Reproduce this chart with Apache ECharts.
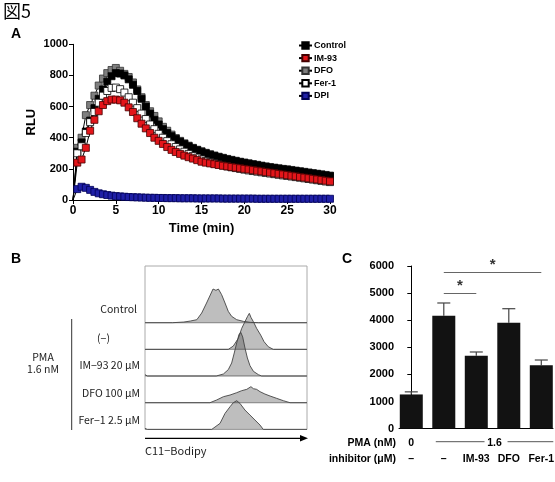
<!DOCTYPE html>
<html>
<head>
<meta charset="utf-8">
<script src="https://cdn.jsdelivr.net/npm/echarts@6/dist/echarts.min.js"></script>
<style>
html, body { margin: 0; padding: 0; background: #fff; }
#main { width: 555px; height: 482px; }
</style>
</head>
<body>
<div id="main"></div>
<script>
// ---- A: chemiluminescence kinetics (RLU vs time) ----
var times = [0, 0.5, 1, 1.5, 2, 2.5, 3, 3.5, 4, 4.5, 5, 5.5, 6, 6.5, 7, 7.5, 8, 8.5, 9, 9.5,
    10, 10.5, 11, 11.5, 12, 12.5, 13, 13.5, 14, 14.5, 15, 15.5, 16, 16.5, 17, 17.5, 18, 18.5, 19, 19.5,
    20, 20.5, 21, 21.5, 22, 22.5, 23, 23.5, 24, 24.5, 25, 25.5, 26, 26.5, 27, 27.5, 28, 28.5, 29, 29.5, 30];
var rluControl = [0, 310, 370, 440, 510, 590, 650, 710, 760, 795, 815, 812, 800, 775, 740, 700, 650, 600, 555, 515,
    485, 455, 430, 410, 392, 375, 360, 345, 332, 320, 310, 300, 291, 283, 275, 268, 261, 255, 249, 243,
    238, 233, 228, 223, 218, 213, 209, 205, 201, 197, 194, 190, 186, 182, 178, 174, 170, 166, 162, 158, 154];
var rluIM93 = [0, 240, 260, 335, 445, 515, 570, 610, 635, 645, 645, 640, 625, 595, 565, 525, 490, 460, 430, 400,
    380, 360, 340, 322, 308, 296, 285, 275, 266, 256, 246, 240, 235, 230, 225, 220, 216, 212, 208, 204,
    200, 196, 192, 188, 184, 180, 176, 172, 168, 164, 160, 156, 152, 148, 144, 140, 136, 132, 128, 124, 120];
var rluDFO = [0, 335, 400, 545, 610, 670, 735, 780, 815, 835, 848, 830, 810, 790, 755, 710, 660, 610, 570, 540,
    505, 470, 445, 420, 398, 380, 364, 349, 335, 323, 313, 303, 294, 286, 278, 271, 264, 258, 252, 246,
    241, 236, 231, 226, 221, 216, 212, 208, 204, 200, 197, 193, 189, 185, 181, 177, 173, 169, 165, 161, 157];
var rluFer1 = [0, 300, 345, 430, 500, 565, 625, 670, 700, 720, 722, 712, 690, 660, 625, 590, 555, 520, 485, 455,
    425, 400, 378, 358, 340, 325, 310, 296, 283, 272, 261, 251, 243, 236, 229, 222, 216, 210, 205, 200,
    195, 190, 186, 182, 178, 174, 170, 166, 162, 158, 155, 151, 147, 143, 139, 135, 131, 127, 123, 119, 115];
var rluDPI = [0, 70, 85, 78, 65, 52, 43, 37, 32, 28, 25, 23, 21, 19, 18, 17, 16, 15, 14, 14,
    13, 13, 12, 12, 12, 11, 11, 11, 11, 10, 10, 10, 10, 10, 10, 9, 9, 9, 9, 9,
    9, 9, 9, 8, 8, 8, 8, 8, 8, 8, 8, 8, 8, 8, 8, 8, 8, 8, 8, 8, 8];
var legendNames = ['Control', 'IM-93', 'DFO', 'Fer-1', 'DPI'];

// ---- B: C11-Bodipy flow histograms ([intensity, count]) ----
var histLabels = ['Control', '(−)', 'IM−93 20 μM', 'DFO 100 μM', 'Fer−1 2.5 μM'];
var histControl = [[0, 0], [17, 0], [24, 2], [28, 5], [32, 9], [35, 29], [38, 59], [40, 80], [42, 101], [43.8, 97],
    [45.3, 101], [47.3, 84], [49.4, 59], [51.4, 34], [53.5, 19], [56.6, 9], [60.7, 4], [65, 1], [70, 0], [100, 0]];
var histPMA = [[0, 0], [51.4, 0], [54.5, 10], [57.6, 33], [59.7, 63], [61.7, 83], [63.2, 98], [64.4, 108], [65.4, 96],
    [66.9, 83], [68.9, 63], [71.4, 43], [73.5, 23], [76.1, 8], [79.2, 0], [100, 0]];
var histIM93 = [[0, 4], [0.6, 1], [1.5, 0], [44, 0], [48.4, 6], [51.4, 19], [53.5, 39], [55.1, 69], [56.6, 99], [58, 124],
    [59.1, 131], [60.3, 117], [61.7, 84], [63.2, 54], [64.8, 31], [66.9, 14], [70, 4], [72, 0], [100, 0]];
var histDFO = [[0, 0], [40.1, 0], [44.2, 8], [48.4, 18], [52.5, 23], [56.6, 30], [59.7, 36], [60.5, 34], [62.8, 40],
    [63.8, 41], [65.4, 48], [66.9, 42], [68.9, 40], [71, 33], [74, 26], [77.2, 20], [81.3, 13], [85.4, 6], [89.5, 0], [100, 0]];
var histFer1 = [[0, 3], [0.6, 1], [1.5, 0], [41.2, 0], [46.3, 18], [49.4, 48], [52.5, 68], [54.5, 80], [56.6, 86],
    [58.6, 78], [61.7, 58], [64.8, 43], [67.9, 28], [71, 13], [73, 0], [100, 0]];

// ---- C: bar chart (mean + SD) ----
var pmaLabels = ['0', '1.6'];
var inhibitorLabels = ['–', '–', 'IM-93', 'DFO', 'Fer-1'];
var barMeans = [1260, 4166, 2690, 3908, 2336];
var barSD = [96, 469, 137, 516, 195];

var chart = echarts.init(document.getElementById('main'));
var boldFont = 'Liberation Sans';
var jpFont = 'Noto Sans CJK JP';
var plain = function (v) { return String(v); };

function kinetic(name, values, fill, border) {
    return {
        name: name,
        type: 'line',
        xAxisIndex: 0,
        yAxisIndex: 0,
        symbol: 'rect',
        symbolSize: 7,
        data: values.map(function (v, i) {
            var d = {value: [times[i], v]};
            if (times[i] === 0) d.symbol = 'none';
            return d;
        }),
        lineStyle: {color: '#000', width: 1},
        itemStyle: {color: fill, borderColor: border, borderWidth: 0.8},
        emphasis: {disabled: true}
    };
}

// histogram rows: grid 1..5
var rowTop = [266, 322.7, 349.3, 376, 402.7];
var rowHeight = [56.7, 26.7, 26.7, 26.7, 26.7];
var rowMax = [170, 80, 80, 80, 80];
var hists = [histControl, histPMA, histIM93, histDFO, histFer1];

var grids = [{left: 73, top: 44.3, width: 257, height: 155.7}];
var xAxes = [{
    type: 'value', gridIndex: 0, min: 0, max: 30, interval: 5,
    axisLine: {lineStyle: {color: '#000', width: 1}},
    axisTick: {length: 4, lineStyle: {color: '#000'}},
    splitLine: {show: false},
    axisLabel: {color: '#000', fontFamily: boldFont, fontWeight: 'bold', fontSize: 12, margin: 5, formatter: plain},
    name: 'Time (min)', nameLocation: 'middle', nameGap: 22,
    nameTextStyle: {color: '#000', fontFamily: boldFont, fontWeight: 'bold', fontSize: 13}
}];
var yAxes = [{
    type: 'value', gridIndex: 0, min: 0, max: 1000, interval: 200,
    axisLine: {show: true, lineStyle: {color: '#000', width: 1}},
    axisTick: {show: true, length: 4, lineStyle: {color: '#000'}},
    splitLine: {show: false},
    axisLabel: {color: '#000', fontFamily: boldFont, fontWeight: 'bold', fontSize: 11, margin: 5, formatter: plain},
    name: 'RLU', nameLocation: 'middle', nameGap: 35, nameRotate: 90,
    nameTextStyle: {color: '#000', fontFamily: boldFont, fontWeight: 'bold', fontSize: 13}
}];
var series = [
    kinetic('DFO', rluDFO, '#7f7f7f', '#333'),
    kinetic('Control', rluControl, '#000', '#000'),
    kinetic('Fer-1', rluFer1, '#fff', '#000'),
    kinetic('IM-93', rluIM93, '#e3151a', '#400'),
    kinetic('DPI', rluDPI, '#1f1fa6', '#000055')
];

hists.forEach(function (h, i) {
    grids.push({left: 145, width: 162, top: rowTop[i], height: rowHeight[i],
        show: true, borderColor: '#aaa', borderWidth: 1, backgroundColor: 'transparent'});
    xAxes.push({type: 'value', gridIndex: i + 1, min: 0, max: 100, show: false});
    yAxes.push({type: 'value', gridIndex: i + 1, min: 0, max: rowMax[i], show: false});
    series.push({
        type: 'line',
        xAxisIndex: i + 1,
        yAxisIndex: i + 1,
        data: h,
        symbol: 'none',
        clip: false,
        lineStyle: {color: '#444', width: 0.9},
        areaStyle: {color: 'rgba(70,70,70,0.5)'},
        emphasis: {disabled: true},
        z: 3
    });
});

// panel C: grid 6
grids.push({left: 399, top: 266, width: 154, height: 162.6});
xAxes.push({
    type: 'value', gridIndex: 6, min: -0.378, max: 4.36,
    axisLine: {show: true, onZero: false, lineStyle: {color: '#000'}},
    axisTick: {show: false}, axisLabel: {show: false}, splitLine: {show: false}
});
yAxes.push({
    type: 'value', gridIndex: 6, min: 0, max: 6000, interval: 1000,
    axisLine: {show: true, lineStyle: {color: '#000'}},
    axisTick: {show: true, length: 4, lineStyle: {color: '#000'}},
    splitLine: {show: false},
    axisLabel: {color: '#000', fontFamily: boldFont, fontWeight: 'bold', fontSize: 11, margin: 5, formatter: plain}
});
series.push({
    type: 'bar',
    xAxisIndex: 6,
    yAxisIndex: 6,
    barWidth: 23,
    data: barMeans.map(function (m, i) { return [i, m]; }),
    itemStyle: {color: '#121212'},
    emphasis: {disabled: true},
    markLine: {
        silent: true,
        symbol: ['none', 'none'],
        lineStyle: {color: '#666', width: 1, type: 'solid'},
        label: {show: true, position: 'middle', formatter: '*', color: '#333',
            fontSize: 15, fontWeight: 'bold', fontFamily: boldFont, distance: 0},
        data: [
            [{coord: [1, 5760]}, {coord: [4, 5760]}],
            [{coord: [1, 5000]}, {coord: [2, 5000]}]
        ]
    }
});
series.push({
    type: 'custom',
    xAxisIndex: 6,
    yAxisIndex: 6,
    data: barMeans.map(function (m, i) { return [i, m, m + barSD[i]]; }),
    renderItem: function (params, api) {
        var lo = api.coord([api.value(0), api.value(1)]);
        var hi = api.coord([api.value(0), api.value(2)]);
        var st = {stroke: '#444', lineWidth: 1.2};
        return {
            type: 'group',
            children: [
                {type: 'line', shape: {x1: lo[0], y1: lo[1], x2: hi[0], y2: hi[1]}, style: st},
                {type: 'line', shape: {x1: hi[0] - 6.5, y1: hi[1], x2: hi[0] + 6.5, y2: hi[1]}, style: st}
            ]
        };
    },
    z: 1
});

var baseGraphic = [
    {type: 'text', left: 3, top: 2, style: {text: '図5', font: '18px "' + jpFont + '"', fill: '#000'}},
    {type: 'text', left: 11, top: 27, style: {text: 'A', font: 'bold 14px "' + boldFont + '"', fill: '#000'}},
    {type: 'text', left: 11, top: 252, style: {text: 'B', font: 'bold 14px "' + boldFont + '"', fill: '#000'}},
    {type: 'text', left: 342, top: 252, style: {text: 'C', font: 'bold 14px "' + boldFont + '"', fill: '#000'}},
    // B: annotations
    {type: 'line', shape: {x1: 71.7, y1: 319, x2: 71.7, y2: 430}, style: {stroke: '#333', lineWidth: 1}},
    {type: 'text', x: 43, y: 357, style: {text: 'PMA', font: '10.5px "' + jpFont + '"', fill: '#222', align: 'center', verticalAlign: 'middle'}},
    {type: 'text', x: 43, y: 369, style: {text: '1.6 nM', font: '10.5px "' + jpFont + '"', fill: '#222', align: 'center', verticalAlign: 'middle'}},
    {type: 'line', shape: {x1: 145, y1: 438.3, x2: 303, y2: 438.3}, style: {stroke: '#000', lineWidth: 1.2}},
    {type: 'polygon', shape: {points: [[308, 438.3], [300, 435], [300, 441.6]]}, style: {fill: '#000'}},
    {type: 'text', x: 145, y: 451, style: {text: 'C11−Bodipy', font: '11px "' + jpFont + '"', fill: '#222', verticalAlign: 'middle'}}
];
var labelX = [137, 110, 140, 140, 140];
var labelY = [309, 338, 365, 392.7, 420];
histLabels.forEach(function (t, i) {
    baseGraphic.push({type: 'text', x: labelX[i], y: labelY[i],
        style: {text: t, font: '10.5px "' + jpFont + '"', fill: '#222', align: 'right', verticalAlign: 'middle'}});
});

chart.setOption({
    animation: false,
    backgroundColor: '#fff',
    legend: {
        data: legendNames,
        orient: 'vertical',
        left: 293,
        top: 36,
        itemWidth: 13,
        itemHeight: 8,
        itemGap: 3.6,
        textStyle: {color: '#000', fontFamily: boldFont, fontWeight: 'bold', fontSize: 9, padding: [0, 0, 0, -3]},
        selectedMode: false
    },
    grid: grids,
    xAxis: xAxes,
    yAxis: yAxes,
    series: series,
    graphic: baseGraphic
});

// C: category labels under the bars, placed on the bar positions
var rowPMA = 442.7, rowInh = 459;
var extra = [
    {type: 'text', x: 396, y: rowPMA, style: {text: 'PMA (nM)', font: 'bold 10.5px "' + boldFont + '"', fill: '#000', align: 'right', verticalAlign: 'middle'}},
    {type: 'text', x: 396, y: rowInh, style: {text: 'inhibitor (μM)', font: 'bold 10.5px "' + boldFont + '"', fill: '#000', align: 'right', verticalAlign: 'middle'}}
];
var px = barMeans.map(function (m, i) { return chart.convertToPixel({gridIndex: 6}, [i, 0])[0]; });
extra.push({type: 'text', x: px[0], y: rowPMA, style: {text: pmaLabels[0], font: 'bold 10.5px "' + boldFont + '"', fill: '#000', align: 'center', verticalAlign: 'middle'}});
var midX = (px[1] + px[4]) / 2 + 2;
extra.push({type: 'text', x: midX, y: rowPMA, style: {text: pmaLabels[1], font: 'bold 10.5px "' + boldFont + '"', fill: '#000', align: 'center', verticalAlign: 'middle'}});
extra.push({type: 'line', shape: {x1: px[1] - 8, y1: rowPMA - 1, x2: midX - 10, y2: rowPMA - 1}, style: {stroke: '#555', lineWidth: 1}});
extra.push({type: 'line', shape: {x1: midX + 13, y1: rowPMA - 1, x2: px[4] + 12, y2: rowPMA - 1}, style: {stroke: '#555', lineWidth: 1}});
inhibitorLabels.forEach(function (t, i) {
    extra.push({type: 'text', x: px[i], y: rowInh, style: {text: t, font: 'bold 10.5px "' + boldFont + '"', fill: '#000', align: 'center', verticalAlign: 'middle'}});
});
chart.setOption({graphic: baseGraphic.concat(extra)});
</script>
</body>
</html>
